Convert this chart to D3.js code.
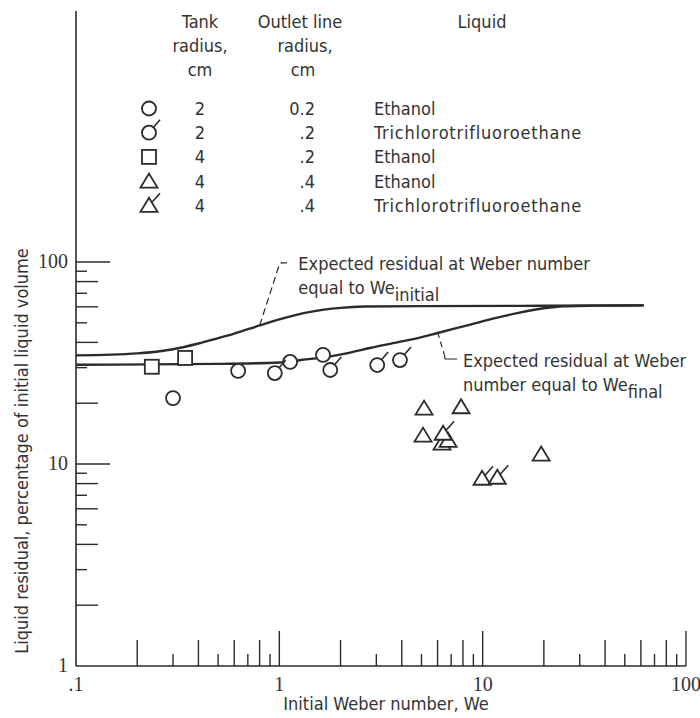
<!DOCTYPE html>
<html><head><meta charset="utf-8">
<script src="https://cdn.jsdelivr.net/npm/d3@7"></script>
<style>
body{margin:0;background:#fff}
svg{display:block}
text{font-family:"DejaVu Sans Condensed","DejaVu Sans",sans-serif;fill:#333;font-size:18px}
.serif{font-family:"Liberation Serif","DejaVu Serif",serif;font-size:20px}
</style>
</head><body>
<svg id="c" width="700" height="718"></svg>
<script>
// ---------- data ----------
const xTickValues = [0.1, 1, 10, 100];
const xTickLabels = [".1", "1", "10", "100"];
const yTickValues = [1, 10, 100];
const yTickLabels = ["1", "10", "100"];
const minorTicks = [2,3,4,5,6,7,8,9];

// [initial Weber number, residual %]
const ethanolTank2 = [[0.30,21.2],[0.627,28.9],[1.13,32.0],[1.64,34.7]];
const trichloroTank2 = [[0.95,28.2],[1.78,29.2],[3.03,30.9],[3.92,32.7]];
const ethanolTank4Out02 = [[0.236,30.3],[0.344,33.5]];
const ethanolTank4Out04 = [[5.15,18.9],[7.83,19.2],[5.09,13.9],[6.31,12.7],[6.76,13.1],[19.4,11.2]];
const trichloroTank4 = [[6.39,14.2],[9.93,8.5],[11.8,8.6]];

const curveInitial = [[0.1,34.5],[0.2,35.3],[0.3,37],[0.4,39.5],[0.5,42],[0.6,44.2],[0.8,48.5],[1.0,52],[1.4,56.5],[2.0,59.3],[2.6,60.2],[5,60.5],[20,60.7],[62,61]];
const curveFinal = [[0.1,31],[0.5,31.3],[1.0,31.8],[1.3,32.8],[1.72,33.9],[2.2,35.5],[2.79,37.5],[3.8,40],[4.9,42.2],[6,44.5],[8.7,49],[11.5,52.7],[15,56],[20,59],[25,60.4],[35,60.8],[62,61]];

const legendSymbols = ["circle","circleFlag","square","triangle","triangleFlag"];
const legendTank = ["2","2","4","4","4"];
const legendOutlet = ["0.2",".2",".2",".4",".4"];
const legendLiquid = ["Ethanol","Trichlorotrifluoroethane","Ethanol","Ethanol","Trichlorotrifluoroethane"];

// ---------- setup ----------
const svg = d3.select("#c");
const ink = "#2b2b2b";
const x = d3.scaleLog().domain([0.1,100]).range([76,686]);
const y = d3.scaleLog().domain([1,100]).range([666,262]);

const g = svg.append("g");

// axes lines
g.append("line").attr("x1",x(0.1)).attr("x2",x(0.1)).attr("y1",y(1)).attr("y2",y(1750))
  .attr("stroke",ink).attr("stroke-width",1.6);
g.append("line").attr("x1",x(0.1)).attr("x2",x(100)).attr("y1",y(1)).attr("y2",y(1))
  .attr("stroke",ink).attr("stroke-width",1.6);

function tickKind(v){
  const m = Math.round(v/Math.pow(10,Math.floor(Math.log10(v)+1e-9)));
  if(m===1) return 0;
  return m%2===0 ? 1 : 2;
}
const allX = [];
[0.1,1,10].forEach(d=>{ minorTicks.forEach(m=>allX.push(d*m)); allX.push(d*10); });
const xLen = [35,26,12];
g.selectAll(".xt").data(allX).enter().append("line")
  .attr("x1",d=>x(d)).attr("x2",d=>x(d)).attr("y1",y(1)).attr("y2",d=>y(1)-xLen[tickKind(d)])
  .attr("stroke",ink).attr("stroke-width",1.4);

const allY = [];
[1,10].forEach(d=>{ minorTicks.forEach(m=>allY.push(d*m)); allY.push(d*10); });
const yLen = [34,22,11];
g.selectAll(".yt").data(allY).enter().append("line")
  .attr("x1",x(0.1)).attr("x2",d=>x(0.1)+yLen[tickKind(d)]).attr("y1",d=>y(d)).attr("y2",d=>y(d))
  .attr("stroke",ink).attr("stroke-width",1.4);

// tick labels
g.selectAll(".xl").data(xTickValues).enter().append("text").attr("class","serif")
  .attr("x",d=>x(d)).attr("y",y(1)+25).attr("text-anchor","middle")
  .text((d,i)=>xTickLabels[i]);
g.selectAll(".yl").data(yTickValues).enter().append("text").attr("class","serif")
  .attr("x",x(0.1)-8).attr("y",d=>y(d)+6).attr("text-anchor","end")
  .text((d,i)=>yTickLabels[i]);

// axis titles
g.append("text").attr("x",386).attr("y",710).attr("text-anchor","middle").text("Initial Weber number, We");
g.append("text").attr("transform","translate(28,451) rotate(-90)").attr("text-anchor","middle")
  .text("Liquid residual, percentage of initial liquid volume");

// curves
const line = d3.line().x(d=>x(d[0])).y(d=>y(d[1])).curve(d3.curveMonotoneX);
[curveInitial, curveFinal].forEach(c=>{
  g.append("path").attr("d",line(c)).attr("fill","none").attr("stroke",ink).attr("stroke-width",2.4);
});

// annotations
g.append("path").attr("d",`M${x(0.8)},${y(48.5)}L${x(1.0)},${y(97)}Q${x(1.005)},${y(99)} ${x(1.03)},${y(99)}`)
  .attr("fill","none").attr("stroke",ink).attr("stroke-width",1.2).attr("stroke-dasharray","7,4");
g.append("path").attr("d",`M${x(1.02)},${y(99)}L${x(1.09)},${y(99)}`)
  .attr("fill","none").attr("stroke",ink).attr("stroke-width",1.2);
const t1x = x(1.24), t1y = y(99)+7;
g.append("text").attr("x",t1x).attr("y",t1y).text("Expected residual at Weber number");
const t1b = g.append("text").attr("x",t1x).attr("y",t1y+24);
t1b.append("tspan").text("equal to  We");
t1b.append("tspan").attr("dy",7).text("initial");

g.append("path").attr("d",`M${x(6.0)},${y(45)}L${x(6.5)},${y(34.4)}`)
  .attr("fill","none").attr("stroke",ink).attr("stroke-width",1.2).attr("stroke-dasharray","6,4");
g.append("path").attr("d",`M${x(6.5)},${y(34.4)}L${x(6.53)},${y(33.1)}L${x(7.48)},${y(33.1)}`)
  .attr("fill","none").attr("stroke",ink).attr("stroke-width",1.2);
const t2x = x(8.0), t2y = y(33.1)+8;
g.append("text").attr("x",t2x).attr("y",t2y).text("Expected residual at Weber");
const t2b = g.append("text").attr("x",t2x).attr("y",t2y+24);
t2b.append("tspan").text("number equal to  We");
t2b.append("tspan").attr("dy",7).text("final");

// markers
function drawMarker(sel, type, cx, cy){
  const s = {fill:"#fff", stroke:ink, "stroke-width":1.8};
  const apply = el => { for(const k in s) el.attr(k,s[k]); return el; };
  if(type.startsWith("circle")){
    apply(sel.append("circle").attr("cx",cx).attr("cy",cy).attr("r",7));
    if(type==="circleFlag")
      sel.append("line").attr("x1",cx+4.5).attr("y1",cy-5.5).attr("x2",cx+11).attr("y2",cy-13)
        .attr("stroke",ink).attr("stroke-width",1.6);
  } else if(type==="square"){
    apply(sel.append("rect").attr("x",cx-7).attr("y",cy-7).attr("width",14).attr("height",14));
  } else {
    apply(sel.append("path").attr("d",`M${cx},${cy-7.5}L${cx+8.5},${cy+6.5}L${cx-8.5},${cy+6.5}Z`));
    if(type==="triangleFlag")
      sel.append("line").attr("x1",cx+3).attr("y1",cy-3).attr("x2",cx+11).attr("y2",cy-12)
        .attr("stroke",ink).attr("stroke-width",1.6);
  }
}
const series = [
  [ethanolTank2,"circle"],[trichloroTank2,"circleFlag"],[ethanolTank4Out02,"square"],
  [ethanolTank4Out04,"triangle"],[trichloroTank4,"triangleFlag"]
];
const mg = g.append("g");
series.forEach(([data,type])=>{
  data.forEach(d=>drawMarker(mg.append("g"), type, x(d[0]), y(d[1])));
});

// legend
const lg = g.append("g");
const headerTank = ["Tank","radius,","cm"];
const headerOutlet = ["Outlet line","radius,","cm"];
headerTank.forEach((t,i)=>lg.append("text").attr("x",200).attr("y",28+i*24).attr("text-anchor","middle").text(t));
headerOutlet.forEach((t,i)=>lg.append("text").attr("x",[300,305,303][i]).attr("y",28+i*24).attr("text-anchor","middle").text(t));
lg.append("text").attr("x",482).attr("y",28).attr("text-anchor","middle").text("Liquid");
legendSymbols.forEach((s,i)=>{
  const by = 115 + i*24.2;
  drawMarker(lg.append("g"), s, 149, by-6.5);
  lg.append("text").attr("x",200).attr("y",by).attr("text-anchor","middle").text(legendTank[i]);
  lg.append("text").attr("x",315).attr("y",by).attr("text-anchor","end").text(legendOutlet[i]);
  lg.append("text").attr("x",374).attr("y",by).attr("letter-spacing",legendLiquid[i].length>10?0.8:0).text(legendLiquid[i]);
});
</script>
</body></html>
